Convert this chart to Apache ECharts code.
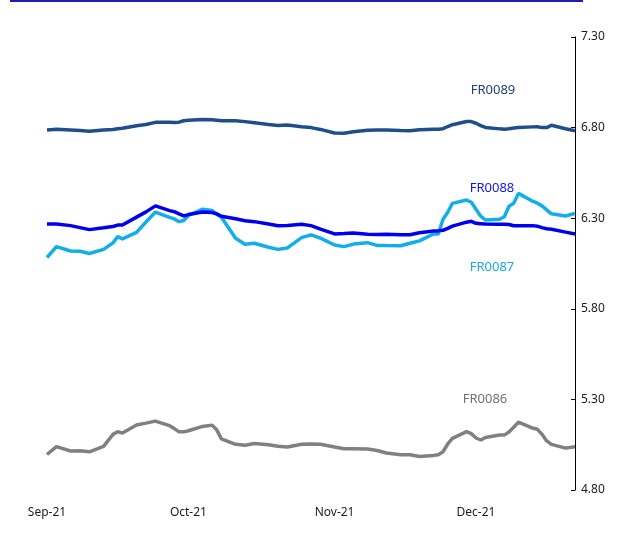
<!DOCTYPE html>
<html>
<head>
<meta charset="utf-8">
<script src="https://cdn.jsdelivr.net/npm/echarts@6/dist/echarts.min.js"></script>
<style>html,body{margin:0;padding:0;background:#fff;}#c{width:625px;height:539px;}</style>
</head>
<body>
<div id="c"></div>
<script>
var dates = ['2021-09-01','2021-09-03','2021-09-06','2021-09-08','2021-09-10','2021-09-13','2021-09-15','2021-09-16','2021-09-17','2021-09-20','2021-09-22','2021-09-24','2021-09-27','2021-09-28','2021-09-29','2021-09-30','2021-10-01','2021-10-04','2021-10-06','2021-10-07','2021-10-08','2021-10-11','2021-10-13','2021-10-15','2021-10-18','2021-10-20','2021-10-22','2021-10-25','2021-10-27','2021-10-29','2021-11-01','2021-11-03','2021-11-05','2021-11-08','2021-11-10','2021-11-12','2021-11-15','2021-11-17','2021-11-19','2021-11-22','2021-11-23','2021-11-24','2021-11-25','2021-11-26','2021-11-29','2021-11-30','2021-12-01','2021-12-02','2021-12-03','2021-12-06','2021-12-07','2021-12-08','2021-12-09','2021-12-10','2021-12-13','2021-12-14','2021-12-15','2021-12-16','2021-12-17','2021-12-20','2021-12-22'];

var FR0089 = [6.787,6.791,6.787,6.784,6.780,6.787,6.789,6.794,6.796,6.810,6.817,6.829,6.829,6.828,6.830,6.838,6.841,6.845,6.843,6.841,6.838,6.838,6.833,6.827,6.817,6.812,6.814,6.805,6.800,6.790,6.770,6.769,6.777,6.785,6.787,6.787,6.784,6.783,6.788,6.791,6.791,6.794,6.806,6.816,6.834,6.833,6.824,6.811,6.801,6.793,6.791,6.794,6.798,6.801,6.804,6.805,6.800,6.800,6.813,6.794,6.783];

var FR0088 = [6.268,6.268,6.259,6.248,6.237,6.247,6.254,6.262,6.262,6.306,6.335,6.368,6.342,6.336,6.324,6.313,6.320,6.334,6.331,6.324,6.311,6.297,6.286,6.281,6.268,6.258,6.260,6.267,6.259,6.240,6.213,6.215,6.218,6.212,6.210,6.211,6.209,6.209,6.220,6.229,6.230,6.233,6.244,6.256,6.278,6.283,6.272,6.270,6.268,6.266,6.266,6.265,6.258,6.259,6.259,6.256,6.248,6.242,6.239,6.223,6.213];

var FR0087 = [6.083,6.143,6.119,6.118,6.105,6.128,6.164,6.198,6.186,6.222,6.279,6.334,6.305,6.296,6.281,6.287,6.315,6.350,6.343,6.322,6.305,6.189,6.156,6.162,6.140,6.128,6.136,6.193,6.208,6.190,6.152,6.143,6.157,6.165,6.150,6.149,6.148,6.162,6.175,6.213,6.213,6.294,6.333,6.382,6.400,6.388,6.349,6.311,6.290,6.294,6.308,6.366,6.382,6.437,6.394,6.383,6.368,6.346,6.324,6.312,6.327];

var FR0086 = [4.996,5.039,5.015,5.016,5.011,5.041,5.107,5.122,5.114,5.159,5.169,5.180,5.155,5.139,5.121,5.121,5.127,5.151,5.158,5.132,5.082,5.052,5.047,5.057,5.050,5.041,5.037,5.052,5.054,5.052,5.037,5.028,5.028,5.026,5.018,5.004,4.995,4.994,4.985,4.991,4.995,5.011,5.054,5.085,5.122,5.111,5.087,5.076,5.090,5.103,5.103,5.120,5.146,5.174,5.142,5.135,5.108,5.071,5.052,5.031,5.039];

var yTicks = [4.80, 5.30, 5.80, 6.30, 6.80, 7.30];
var monthNames = ['Jan','Feb','Mar','Apr','May','Jun','Jul','Aug','Sep','Oct','Nov','Dec'];

function pairs(vals){ return dates.map(function(d,i){ return [d, vals[i]]; }); }

var chart = echarts.init(document.getElementById('c'), null, {renderer:'canvas'});
var FONT = 'Noto Sans';
function line(name, vals, color, w){
  return {name:name, type:'line', data:pairs(vals), showSymbol:false, symbol:'none',
    lineStyle:{color:color, width:w}, itemStyle:{color:color}, z:3, animation:false};
}
chart.setOption({
  animation:false,
  grid:{left:47, right:50, top:37, bottom:49, containLabel:false},
  xAxis:{type:'time', min:'2021-09-01', max:'2021-12-22',
    axisLine:{show:false}, axisTick:{show:false}, splitLine:{show:false},
    axisLabel:{margin:17, color:'#1a1a1a', fontFamily:FONT, fontSize:12, showMinLabel:true, hideOverlap:false,
      formatter:function(v){ var d=new Date(v); if(d.getDate()!==1) return ''; return monthNames[d.getMonth()]+'-'+String(d.getFullYear()).slice(2); }}
  },
  yAxis:{type:'value', position:'right', min:4.8, max:7.3, interval:0.5,
    axisLine:{show:true, lineStyle:{color:'#000', width:1}},
    axisTick:{show:true, inside:true, length:4, lineStyle:{color:'#000'}},
    splitLine:{show:false},
    axisLabel:{margin:6, color:'#1a1a1a', fontFamily:FONT, fontSize:12, formatter:function(v){return v.toFixed(2);}}
  },
  series:[
    line('FR0089', FR0089, '#1f4e8c', 3.5),
    line('FR0087', FR0087, '#12aeec', 3.5),
    line('FR0088', FR0088, '#0000f0', 3.5),
    line('FR0086', FR0086, '#808080', 3.5)
  ],
  graphic:[
    {type:'line', shape:{x1:10,y1:1,x2:583,y2:1}, style:{stroke:'#1e1ea6', lineWidth:2}},
    {type:'text', x:493, y:90, style:{text:'FR0089', fill:'#1f3f78', font:'13px "Noto Sans"', align:'center', verticalAlign:'middle'}},
    {type:'text', x:492, y:188, style:{text:'FR0088', fill:'#1414e0', font:'13px "Noto Sans"', align:'center', verticalAlign:'middle'}},
    {type:'text', x:492, y:267, style:{text:'FR0087', fill:'#18a8e4', font:'13px "Noto Sans"', align:'center', verticalAlign:'middle'}},
    {type:'text', x:485, y:399, style:{text:'FR0086', fill:'#707070', font:'13px "Noto Sans"', align:'center', verticalAlign:'middle'}}
  ]
});
</script>
</body>
</html>
